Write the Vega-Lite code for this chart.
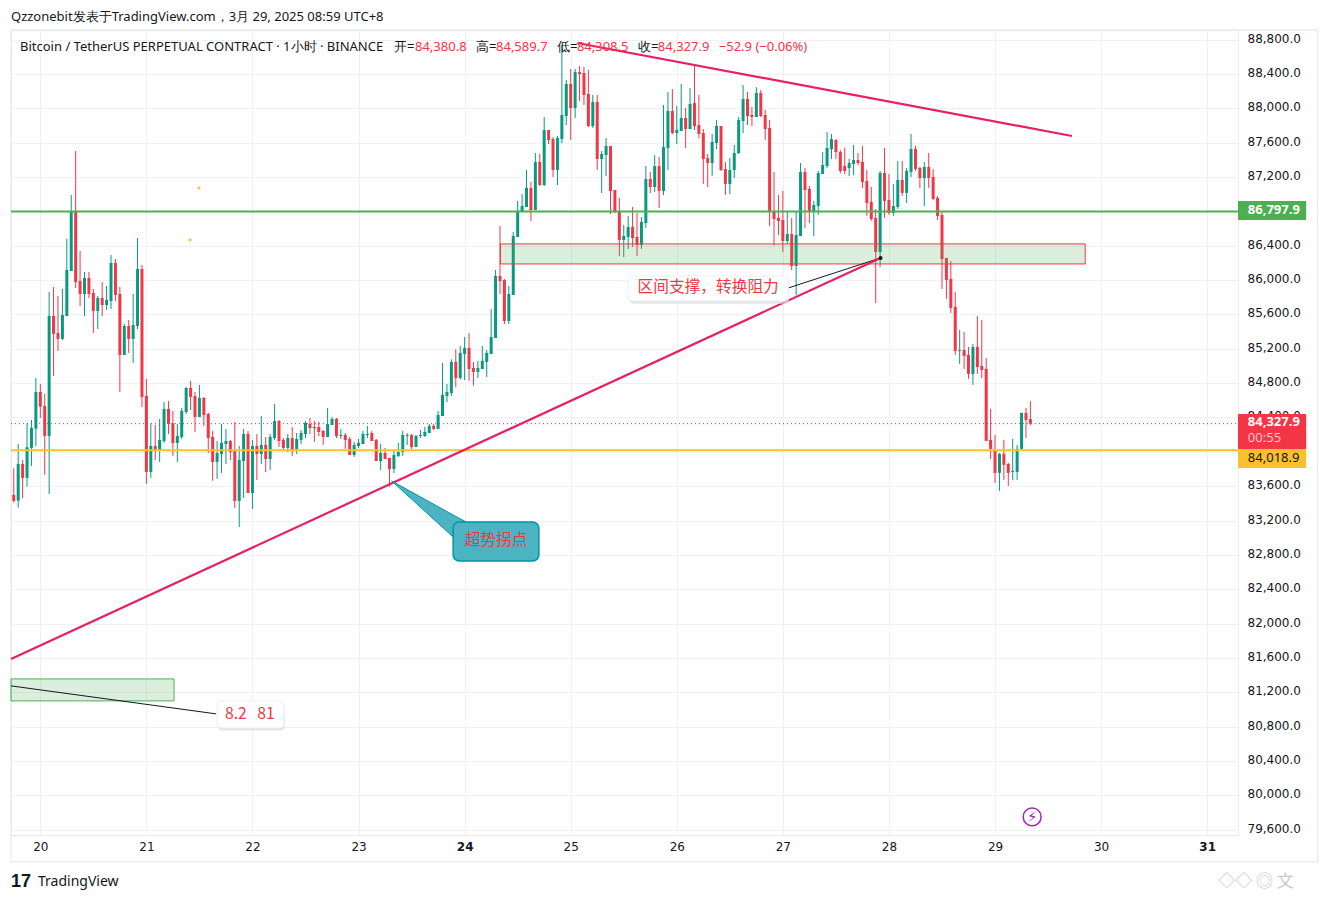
{
  "$schema": "https://vega.github.io/schema/vega-lite/v6.json",
  "width": 1227,
  "height": 805,
  "autosize": "none",
  "padding": {"left": 11, "top": 30, "right": 91, "bottom": 67},
  "background": "#ffffff",
  "config": {"view": {"stroke": "#eef0f4"}, "font": "Noto Sans"},
  "resolve": {"scale": {"color": "independent", "fill": "independent", "stroke": "independent"}},
  "datasets": {
    "candles": [
      {"t":-6,"o":83498,"h":83808,"l":83409,"c":83428},
      {"t":-5,"o":83432,"h":84091,"l":83350,"c":83859},
      {"t":-4,"o":83859,"h":83905,"l":83459,"c":83696},
      {"t":-3,"o":83696,"h":84332,"l":83595,"c":84053},
      {"t":-2,"o":84045,"h":84371,"l":83835,"c":84278},
      {"t":-1,"o":84270,"h":84860,"l":84068,"c":84697},
      {"t":0,"o":84697,"h":84790,"l":84394,"c":84526},
      {"t":1,"o":84534,"h":84673,"l":83731,"c":84185},
      {"t":2,"o":84185,"h":85861,"l":83509,"c":85581},
      {"t":3,"o":85581,"h":85919,"l":84883,"c":85372},
      {"t":4,"o":85383,"h":85814,"l":85174,"c":85314},
      {"t":5,"o":85314,"h":85896,"l":85302,"c":85593},
      {"t":6,"o":85581,"h":86478,"l":85581,"c":86117},
      {"t":7,"o":86105,"h":86990,"l":86105,"c":86792},
      {"t":8,"o":86792,"h":87502,"l":85907,"c":85977},
      {"t":9,"o":85989,"h":86338,"l":85698,"c":85837},
      {"t":10,"o":85837,"h":86094,"l":85581,"c":86024},
      {"t":11,"o":86024,"h":86094,"l":85791,"c":85837},
      {"t":12,"o":85849,"h":85896,"l":85383,"c":85640},
      {"t":13,"o":85640,"h":85814,"l":85430,"c":85791},
      {"t":14,"o":85791,"h":85977,"l":85581,"c":85709},
      {"t":15,"o":85709,"h":85931,"l":85651,"c":85768},
      {"t":16,"o":85756,"h":86291,"l":85663,"c":86198},
      {"t":17,"o":86198,"h":86245,"l":85756,"c":85826},
      {"t":18,"o":85837,"h":85919,"l":84697,"c":85127},
      {"t":19,"o":85127,"h":85488,"l":85127,"c":85465},
      {"t":20,"o":85465,"h":85535,"l":85151,"c":85314},
      {"t":21,"o":85314,"h":85837,"l":85034,"c":85477},
      {"t":22,"o":85465,"h":86489,"l":85430,"c":86128},
      {"t":23,"o":86128,"h":86175,"l":84522,"c":84639},
      {"t":24,"o":84650,"h":84848,"l":83626,"c":83766},
      {"t":25,"o":83766,"h":84332,"l":83696,"c":84068},
      {"t":26,"o":84068,"h":84313,"l":83905,"c":84022},
      {"t":27,"o":84022,"h":84382,"l":83882,"c":84138},
      {"t":28,"o":84126,"h":84580,"l":84103,"c":84499},
      {"t":29,"o":84499,"h":84592,"l":84208,"c":84324},
      {"t":30,"o":84332,"h":84476,"l":83952,"c":84103},
      {"t":31,"o":84103,"h":84324,"l":83882,"c":84185},
      {"t":32,"o":84173,"h":84510,"l":84150,"c":84476},
      {"t":33,"o":84464,"h":84755,"l":84441,"c":84743},
      {"t":34,"o":84743,"h":84825,"l":84487,"c":84639},
      {"t":35,"o":84650,"h":84697,"l":84231,"c":84406},
      {"t":36,"o":84406,"h":84778,"l":84406,"c":84627},
      {"t":37,"o":84627,"h":84638,"l":84301,"c":84429},
      {"t":38,"o":84441,"h":84452,"l":83987,"c":84161},
      {"t":39,"o":84173,"h":84243,"l":83664,"c":83882},
      {"t":40,"o":83882,"h":84126,"l":83684,"c":83986},
      {"t":41,"o":83975,"h":84324,"l":83754,"c":84103},
      {"t":42,"o":84091,"h":84266,"l":83858,"c":84126},
      {"t":43,"o":84126,"h":84138,"l":83905,"c":83998},
      {"t":44,"o":84021,"h":84347,"l":83346,"c":83428},
      {"t":45,"o":83428,"h":84068,"l":83125,"c":83905},
      {"t":46,"o":83893,"h":84266,"l":83463,"c":84208},
      {"t":47,"o":84208,"h":84243,"l":83521,"c":83521},
      {"t":48,"o":83521,"h":84138,"l":83335,"c":84068},
      {"t":49,"o":84068,"h":84208,"l":83672,"c":83975},
      {"t":50,"o":83975,"h":84417,"l":83858,"c":84080},
      {"t":51,"o":84080,"h":84173,"l":83765,"c":83917},
      {"t":52,"o":83917,"h":84208,"l":83789,"c":84173},
      {"t":53,"o":84161,"h":84557,"l":84138,"c":84359},
      {"t":54,"o":84359,"h":84371,"l":84056,"c":84126},
      {"t":55,"o":84138,"h":84161,"l":84021,"c":84045},
      {"t":56,"o":84045,"h":84208,"l":83998,"c":84161},
      {"t":57,"o":84161,"h":84289,"l":83952,"c":84021},
      {"t":58,"o":84033,"h":84219,"l":83975,"c":84149},
      {"t":59,"o":84138,"h":84254,"l":84091,"c":84219},
      {"t":60,"o":84208,"h":84359,"l":84161,"c":84336},
      {"t":61,"o":84324,"h":84394,"l":84208,"c":84277},
      {"t":62,"o":84289,"h":84359,"l":84115,"c":84277},
      {"t":63,"o":84289,"h":84347,"l":84184,"c":84231},
      {"t":64,"o":84243,"h":84254,"l":84080,"c":84173},
      {"t":65,"o":84173,"h":84510,"l":84173,"c":84324},
      {"t":66,"o":84312,"h":84406,"l":84312,"c":84382},
      {"t":67,"o":84382,"h":84394,"l":84161,"c":84184},
      {"t":68,"o":84184,"h":84266,"l":84149,"c":84196},
      {"t":69,"o":84196,"h":84219,"l":84033,"c":84138},
      {"t":70,"o":84149,"h":84173,"l":83963,"c":83963},
      {"t":71,"o":83963,"h":84115,"l":83940,"c":84080},
      {"t":72,"o":84068,"h":84149,"l":84045,"c":84103},
      {"t":73,"o":84091,"h":84243,"l":84091,"c":84208},
      {"t":74,"o":84196,"h":84301,"l":84161,"c":84208},
      {"t":75,"o":84219,"h":84243,"l":84126,"c":84126},
      {"t":76,"o":84138,"h":84149,"l":83893,"c":83893},
      {"t":77,"o":83893,"h":84091,"l":83789,"c":83986},
      {"t":78,"o":83986,"h":84045,"l":83917,"c":83917},
      {"t":79,"o":83928,"h":83928,"l":83595,"c":83800},
      {"t":80,"o":83800,"h":84010,"l":83754,"c":83963},
      {"t":81,"o":83952,"h":84103,"l":83940,"c":83998},
      {"t":82,"o":83998,"h":84243,"l":83952,"c":84196},
      {"t":83,"o":84184,"h":84219,"l":84080,"c":84196},
      {"t":84,"o":84196,"h":84208,"l":84033,"c":84056},
      {"t":85,"o":84056,"h":84196,"l":84056,"c":84184},
      {"t":86,"o":84184,"h":84254,"l":84161,"c":84196},
      {"t":87,"o":84184,"h":84289,"l":84173,"c":84231},
      {"t":88,"o":84219,"h":84324,"l":84219,"c":84301},
      {"t":89,"o":84301,"h":84324,"l":84254,"c":84266},
      {"t":90,"o":84266,"h":84475,"l":84266,"c":84429},
      {"t":91,"o":84417,"h":85034,"l":84417,"c":84662},
      {"t":92,"o":84650,"h":84790,"l":84580,"c":84697},
      {"t":93,"o":84685,"h":85077,"l":84650,"c":85046},
      {"t":94,"o":85046,"h":85193,"l":84751,"c":84860},
      {"t":95,"o":84860,"h":85232,"l":84840,"c":85151},
      {"t":96,"o":85139,"h":85337,"l":84836,"c":85209},
      {"t":97,"o":85209,"h":85384,"l":84825,"c":84964},
      {"t":98,"o":84976,"h":85046,"l":84770,"c":84930},
      {"t":99,"o":84930,"h":85058,"l":84860,"c":84976},
      {"t":100,"o":84964,"h":85232,"l":84964,"c":85058},
      {"t":101,"o":85046,"h":85186,"l":84871,"c":85151},
      {"t":102,"o":85139,"h":85663,"l":85139,"c":85337},
      {"t":103,"o":85325,"h":86117,"l":85325,"c":86047},
      {"t":104,"o":86047,"h":86629,"l":85837,"c":85989},
      {"t":105,"o":86000,"h":86012,"l":85488,"c":85523},
      {"t":106,"o":85523,"h":85931,"l":85488,"c":85837},
      {"t":107,"o":85826,"h":86559,"l":85826,"c":86513},
      {"t":108,"o":86501,"h":86920,"l":86501,"c":86804},
      {"t":109,"o":86792,"h":87001,"l":86792,"c":86862},
      {"t":110,"o":86850,"h":87281,"l":86850,"c":87071},
      {"t":111,"o":87071,"h":87141,"l":86687,"c":86815},
      {"t":112,"o":86815,"h":87479,"l":86815,"c":87374},
      {"t":113,"o":87374,"h":87467,"l":87095,"c":87106},
      {"t":114,"o":87106,"h":87898,"l":87095,"c":87746},
      {"t":115,"o":87746,"h":87746,"l":87583,"c":87630},
      {"t":116,"o":87642,"h":87665,"l":87199,"c":87281},
      {"t":117,"o":87281,"h":87677,"l":87106,"c":87653},
      {"t":118,"o":87642,"h":88736,"l":87595,"c":87921},
      {"t":119,"o":87909,"h":88328,"l":87805,"c":88282},
      {"t":120,"o":88282,"h":88456,"l":87630,"c":88002},
      {"t":121,"o":88002,"h":88456,"l":87886,"c":88421},
      {"t":122,"o":88421,"h":88491,"l":88084,"c":88398},
      {"t":123,"o":88410,"h":88480,"l":88037,"c":88154},
      {"t":124,"o":88165,"h":88445,"l":87781,"c":87793},
      {"t":125,"o":87793,"h":88154,"l":87770,"c":88072},
      {"t":126,"o":88072,"h":88154,"l":87281,"c":87409},
      {"t":127,"o":87409,"h":87502,"l":87013,"c":87467},
      {"t":128,"o":87455,"h":87653,"l":87211,"c":87560},
      {"t":129,"o":87560,"h":87560,"l":86769,"c":87036},
      {"t":130,"o":87048,"h":87048,"l":86780,"c":86804},
      {"t":131,"o":86804,"h":86955,"l":86280,"c":86466},
      {"t":132,"o":86466,"h":86641,"l":86268,"c":86513},
      {"t":133,"o":86501,"h":86745,"l":86361,"c":86617},
      {"t":134,"o":86617,"h":86850,"l":86384,"c":86489},
      {"t":135,"o":86501,"h":86780,"l":86280,"c":86408},
      {"t":136,"o":86408,"h":86734,"l":86361,"c":86676},
      {"t":137,"o":86664,"h":87327,"l":86606,"c":87176},
      {"t":138,"o":87176,"h":87257,"l":87013,"c":87083},
      {"t":139,"o":87083,"h":87455,"l":87025,"c":87327},
      {"t":140,"o":87327,"h":87432,"l":86838,"c":87036},
      {"t":141,"o":87036,"h":88037,"l":86990,"c":87549},
      {"t":142,"o":87537,"h":88189,"l":87281,"c":87968},
      {"t":143,"o":87967,"h":88223,"l":87700,"c":87711},
      {"t":144,"o":87711,"h":88026,"l":87583,"c":87746},
      {"t":145,"o":87735,"h":88282,"l":87735,"c":87886},
      {"t":146,"o":87886,"h":88002,"l":87537,"c":87758},
      {"t":147,"o":87758,"h":88235,"l":87758,"c":88049},
      {"t":148,"o":88060,"h":88503,"l":87746,"c":87793},
      {"t":149,"o":87804,"h":88154,"l":87653,"c":87700},
      {"t":150,"o":87711,"h":87758,"l":87118,"c":87409},
      {"t":151,"o":87420,"h":87467,"l":87083,"c":87362},
      {"t":152,"o":87362,"h":87700,"l":87211,"c":87607},
      {"t":153,"o":87595,"h":87863,"l":87525,"c":87793},
      {"t":154,"o":87793,"h":87793,"l":87269,"c":87281},
      {"t":155,"o":87292,"h":87374,"l":86990,"c":87118},
      {"t":156,"o":87118,"h":87420,"l":87001,"c":87281},
      {"t":157,"o":87281,"h":87572,"l":87188,"c":87478},
      {"t":158,"o":87478,"h":87898,"l":87467,"c":87863},
      {"t":159,"o":87851,"h":88270,"l":87711,"c":88107},
      {"t":160,"o":88107,"h":88189,"l":87804,"c":87909},
      {"t":161,"o":87921,"h":88014,"l":87793,"c":87898},
      {"t":162,"o":87898,"h":88247,"l":87898,"c":88177},
      {"t":163,"o":88177,"h":88212,"l":87898,"c":87909},
      {"t":164,"o":87921,"h":87979,"l":87630,"c":87758},
      {"t":165,"o":87769,"h":87863,"l":86629,"c":86792},
      {"t":166,"o":86792,"h":87257,"l":86404,"c":86710},
      {"t":167,"o":86722,"h":86990,"l":86524,"c":86687},
      {"t":168,"o":86699,"h":87036,"l":86326,"c":86454},
      {"t":169,"o":86454,"h":86792,"l":86419,"c":86536},
      {"t":170,"o":86536,"h":86722,"l":86117,"c":86163},
      {"t":171,"o":86163,"h":86792,"l":85826,"c":86524},
      {"t":172,"o":86512,"h":87362,"l":86512,"c":87257},
      {"t":173,"o":87257,"h":87304,"l":86605,"c":87048},
      {"t":174,"o":87059,"h":87094,"l":86664,"c":86803},
      {"t":175,"o":86803,"h":86920,"l":86512,"c":86873},
      {"t":176,"o":86862,"h":87269,"l":86757,"c":87246},
      {"t":177,"o":87234,"h":87490,"l":87234,"c":87339},
      {"t":178,"o":87327,"h":87723,"l":87304,"c":87537},
      {"t":179,"o":87525,"h":87700,"l":87409,"c":87641},
      {"t":180,"o":87630,"h":87641,"l":87409,"c":87490},
      {"t":181,"o":87490,"h":87513,"l":87242,"c":87269},
      {"t":182,"o":87327,"h":87541,"l":87234,"c":87269},
      {"t":183,"o":87304,"h":87409,"l":87211,"c":87362},
      {"t":184,"o":87350,"h":87572,"l":87222,"c":87397},
      {"t":185,"o":87397,"h":87478,"l":87335,"c":87362},
      {"t":186,"o":87374,"h":87561,"l":87072,"c":87142},
      {"t":187,"o":87153,"h":87281,"l":86746,"c":86897},
      {"t":188,"o":86909,"h":87083,"l":86688,"c":86711},
      {"t":189,"o":86723,"h":86827,"l":85733,"c":86327},
      {"t":190,"o":86327,"h":87270,"l":86152,"c":87246},
      {"t":191,"o":87246,"h":87537,"l":86723,"c":86921},
      {"t":192,"o":86932,"h":87235,"l":86758,"c":86781},
      {"t":193,"o":86781,"h":87118,"l":86746,"c":86862},
      {"t":194,"o":86851,"h":87386,"l":86827,"c":87165},
      {"t":195,"o":87165,"h":87386,"l":86979,"c":87014},
      {"t":196,"o":87014,"h":87305,"l":86897,"c":87270},
      {"t":197,"o":87258,"h":87700,"l":87200,"c":87526},
      {"t":198,"o":87526,"h":87561,"l":87270,"c":87293},
      {"t":199,"o":87305,"h":87316,"l":87072,"c":87188},
      {"t":200,"o":87188,"h":87375,"l":86862,"c":87316},
      {"t":201,"o":87316,"h":87479,"l":87072,"c":87188},
      {"t":202,"o":87200,"h":87293,"l":86932,"c":86944},
      {"t":203,"o":86955,"h":86979,"l":86699,"c":86746},
      {"t":204,"o":86758,"h":86804,"l":85896,"c":86245},
      {"t":205,"o":86257,"h":86257,"l":85780,"c":86001},
      {"t":206,"o":86013,"h":86222,"l":85617,"c":85675},
      {"t":207,"o":85687,"h":85861,"l":85128,"c":85175},
      {"t":208,"o":85175,"h":85419,"l":85023,"c":85186},
      {"t":209,"o":85186,"h":85396,"l":84965,"c":85116},
      {"t":210,"o":85128,"h":85221,"l":84849,"c":84907},
      {"t":211,"o":84907,"h":85256,"l":84779,"c":85221},
      {"t":212,"o":85221,"h":85582,"l":84907,"c":84988},
      {"t":213,"o":85000,"h":85535,"l":84860,"c":84953},
      {"t":214,"o":84965,"h":85093,"l":84127,"c":84127},
      {"t":215,"o":84139,"h":84499,"l":83917,"c":84034},
      {"t":216,"o":84022,"h":84197,"l":83638,"c":83755},
      {"t":217,"o":83755,"h":83987,"l":83545,"c":83976},
      {"t":218,"o":83976,"h":84139,"l":83673,"c":83848},
      {"t":219,"o":83859,"h":83871,"l":83603,"c":83755},
      {"t":220,"o":83766,"h":84150,"l":83673,"c":83778},
      {"t":221,"o":83766,"h":84080,"l":83673,"c":84034},
      {"t":222,"o":84034,"h":84453,"l":84022,"c":84453},
      {"t":223,"o":84453,"h":84511,"l":84162,"c":84371},
      {"t":224,"o":84380.8,"h":84589.7,"l":84308.5,"c":84327.9}
    ]
  },
  "encoding": {
    "x": {
      "field": "t",
      "type": "quantitative",
      "title": null,
      "scale": {"domain": [-6.63, 270.97], "nice": false, "zero": false, "padding": 0},
      "axis": {
        "values": [0, 24, 48, 72, 96, 120, 144, 168, 192, 216, 240, 264],
        "labelExpr": "format(datum.value / 24 + 20, 'd')",
        "labelFontWeight": {"condition": {"test": "datum.value == 96 || datum.value == 264", "value": "bold"}, "value": "normal"},
        "labelColor": "#131722",
        "labelFontSize": 12,
        "labelFont": "DejaVu Sans",
        "labelPadding": 6,
        "ticks": false,
        "domainColor": "#e6e8ee",
        "gridColor": "#f0f1f4",
        "grid": true
      }
    },
    "y": {
      "field": "p",
      "type": "quantitative",
      "title": null,
      "scale": {"domain": [79539, 88910.6], "nice": false, "zero": false},
      "axis": {
        "orient": "right",
        "values": [79600, 80000, 80400, 80800, 81200, 81600, 82000, 82400, 82800, 83200, 83600, 84000, 84400, 84800, 85200, 85600, 86000, 86400, 86800, 87200, 87600, 88000, 88400, 88800],
        "labelExpr": "datum.value == 86800 || datum.value == 84000 ? '' : format(datum.value, ',.1f')",
        "labelColor": "#131722",
        "labelFontSize": 12,
        "labelFont": "DejaVu Sans",
        "labelPadding": 9,
        "labelOffset": -1.5,
        "labelOverlap": false,
        "labelBound": false,
        "labelFlush": false,
        "ticks": false,
        "domain": false,
        "gridColor": "#f0f1f4",
        "grid": true
      }
    }
  },
  "layer": [
    {
      "data": {"values": [{"t": -6.63, "t2": 289, "p": 88910.6, "p2": 79226}]},
      "mark": {"type": "rect", "fillOpacity": 0, "stroke": "#e0e3eb", "strokeWidth": 1},
      "encoding": {"x2": {"field": "t2"}, "y2": {"field": "p2"}}
    },
    {
      "data": {"values": [{"t": -6.63, "t2": 270.97, "p": 84327.9}]},
      "mark": {"type": "rule", "color": "#F23645", "strokeWidth": 1, "strokeDash": [1, 3]},
      "encoding": {"x2": {"field": "t2"}}
    },
    {
      "data": {"name": "candles"},
      "mark": {"type": "rule", "strokeWidth": 1},
      "encoding": {
        "y": {"field": "h", "type": "quantitative", "title": null},
        "y2": {"field": "l"},
        "color": {"condition": {"test": "datum.c >= datum.o", "value": "#089981"}, "value": "#F23645"}
      }
    },
    {
      "data": {"name": "candles"},
      "mark": {"type": "bar", "size": 3},
      "encoding": {
        "y": {"field": "o", "type": "quantitative", "title": null},
        "y2": {"field": "c"},
        "color": {"condition": {"test": "datum.c >= datum.o", "value": "#089981"}, "value": "#F23645"}
      }
    },
    {
      "data": {"values": [
        {"t": 104.1, "t2": 236.4, "p": 86420, "p2": 86187, "edge": "red"},
        {"t": -6.63, "t2": 30.25, "p": 81356, "p2": 81100, "edge": "green"}
      ]},
      "mark": {"type": "rect", "fill": "#4CAF50", "fillOpacity": 0.2, "strokeWidth": 1},
      "encoding": {
        "x2": {"field": "t2"},
        "y2": {"field": "p2"},
        "stroke": {"field": "edge", "type": "nominal", "legend": null, "scale": {"domain": ["red", "green"], "range": ["#F23645", "#4CAF50"]}}
      }
    },
    {
      "data": {"values": [
        {"t": -6.63, "t2": 270.97, "p": 86797.9, "level": "green"},
        {"t": -6.63, "t2": 270.97, "p": 84018.9, "level": "yellow"}
      ]},
      "mark": {"type": "rule", "strokeWidth": 2},
      "encoding": {
        "x2": {"field": "t2"},
        "color": {"field": "level", "type": "nominal", "legend": null, "scale": {"domain": ["green", "yellow"], "range": ["#4CAF50", "#FBC02D"]}}
      }
    },
    {
      "data": {"values": [
        {"t": 35.9, "p": 87071},
        {"t": 33.9, "p": 86466}
      ]},
      "mark": {"type": "point", "shape": "square", "filled": true, "size": 7, "color": "#FFB74D", "opacity": 1}
    },
    {
      "data": {"values": [
        {"id": "callout-low", "t": -6.63, "p": 81275},
        {"id": "callout-low", "t": 39.8, "p": 80949},
        {"id": "callout-mid", "t": 169.2, "p": 85907},
        {"id": "callout-mid", "t": 190.1, "p": 86257}
      ]},
      "mark": {"type": "line", "color": "#131722", "strokeWidth": 1},
      "encoding": {"detail": {"field": "id"}}
    },
    {
      "data": {"values": [
        {"id": "support", "t": -6.63, "p": 81589},
        {"id": "support", "t": 190.1, "p": 86257},
        {"id": "resistance", "t": 121.5, "p": 88759},
        {"id": "resistance", "t": 233.4, "p": 87677}
      ]},
      "mark": {"type": "line", "color": "#E91E63", "strokeWidth": 2.2},
      "encoding": {"detail": {"field": "id"}}
    },
    {
      "data": {"values": [{"t": 190.1, "p": 86257}]},
      "mark": {"type": "point", "shape": "circle", "filled": true, "size": 16, "color": "#131722", "opacity": 1}
    },
    {
      "data": {"values": [
        {"t": 79.5, "p": 83660, "p2": 83660},
        {"t": 93.4, "p": 83265, "p2": 83009},
        {"t": 96.3, "p": 83184, "p2": 83100}
      ]},
      "mark": {"type": "area", "color": "#4BB3C1", "stroke": "#0097A7", "strokeWidth": 1},
      "encoding": {"y2": {"field": "p2"}}
    },
    {
      "data": {"values": [{"t": 93.4, "t2": 112.8, "p": 83184, "p2": 82730}]},
      "mark": {"type": "rect", "fill": "#4BB3C1", "stroke": "#0097A7", "strokeWidth": 1.5, "cornerRadius": 6},
      "encoding": {"x2": {"field": "t2"}, "y2": {"field": "p2"}}
    },
    {
      "data": {"values": [
        {"t": 133.3, "t2": 169.4, "p": 86020, "p2": 85725},
        {"t": 40.2, "t2": 55.3, "p": 81075, "p2": 80755}
      ]},
      "mark": {"type": "rect", "fill": "#d9dbe0", "cornerRadius": 4, "opacity": 0.7},
      "encoding": {"x2": {"field": "t2"}, "y2": {"field": "p2"}}
    },
    {
      "data": {"values": [
        {"t": 133, "t2": 169.2, "p": 86047, "p2": 85756},
        {"t": 39.98, "t2": 55.1, "p": 81100, "p2": 80786}
      ]},
      "mark": {"type": "rect", "fill": "#ffffff", "stroke": "#eceef2", "cornerRadius": 4},
      "encoding": {"x2": {"field": "t2"}, "y2": {"field": "p2"}}
    },
    {
      "data": {"values": [
        {"t": 151.1, "p": 85919, "label": "区间支撑，转换阻力"},
        {"t": 47.4, "p": 80949, "label": "8.2\u00a0\u00a0\u00a081"},
        {"t": 103.1, "p": 82974, "label": "超势拐点"}
      ]},
      "mark": {"type": "text", "font": "Noto Sans CJK SC", "fontSize": 15.7, "color": "#F23645", "align": "center", "baseline": "middle"},
      "encoding": {"text": {"field": "label"}}
    },
    {
      "data": {"values": [
        {"t": -6.63, "p": 89062, "label": "Qzzonebit发表于TradingView.com，3月 29, 2025 08:59 UTC+8", "tone": "ink"},
        {"t": -4.59, "p": 88713, "label": "Bitcoin / TetherUS PERPETUAL CONTRACT · 1小时 · BINANCE", "tone": "ink"},
        {"t": 80, "p": 88713, "label": "开=", "tone": "ink"},
        {"t": 84.77, "p": 88713, "label": "84,380.8", "tone": "red"},
        {"t": 98.6, "p": 88713, "label": "高=", "tone": "ink"},
        {"t": 103.1, "p": 88713, "label": "84,589.7", "tone": "red"},
        {"t": 116.9, "p": 88713, "label": "低=", "tone": "ink"},
        {"t": 121.4, "p": 88713, "label": "84,308.5", "tone": "red"},
        {"t": 135.2, "p": 88713, "label": "收=", "tone": "ink"},
        {"t": 139.7, "p": 88713, "label": "84,327.9", "tone": "red"},
        {"t": 153.5, "p": 88713, "label": "−52.9 (−0.06%)", "tone": "red"}
      ]},
      "mark": {"type": "text", "font": "Noto Sans", "fontSize": 13, "align": "left", "baseline": "middle"},
      "encoding": {
        "text": {"field": "label"},
        "color": {"field": "tone", "type": "nominal", "legend": null, "scale": {"domain": ["ink", "red"], "range": ["#131722", "#F23645"]}}
      }
    },
    {
      "data": {"values": [
        {"t": 270.97, "t2": 286.4, "p": 86920, "p2": 86699, "tag": "green"},
        {"t": 270.97, "t2": 286.4, "p": 84441, "p2": 84033, "tag": "red"},
        {"t": 270.97, "t2": 286.4, "p": 84033, "p2": 83812, "tag": "yellow"}
      ]},
      "mark": {"type": "rect", "cornerRadius": 1},
      "encoding": {
        "x2": {"field": "t2"},
        "y2": {"field": "p2"},
        "fill": {"field": "tag", "type": "nominal", "legend": null, "scale": {"domain": ["green", "red", "yellow"], "range": ["#4CAF50", "#F23645", "#FBC02D"]}}
      }
    },
    {
      "data": {"values": [
        {"t": 273.2, "p": 86810, "label": "86,797.9"},
        {"t": 273.2, "p": 84348, "label": "84,327.9"}
      ]},
      "mark": {"type": "text", "font": "Noto Sans", "fontSize": 13, "fontWeight": "bold", "color": "#ffffff", "align": "left", "baseline": "middle"},
      "encoding": {"text": {"field": "label"}}
    },
    {
      "data": {"values": [
        {"t": 273.2, "p": 84161, "label": "00:55", "tone": "pale"},
        {"t": 273.2, "p": 83929, "label": "84,018.9", "tone": "dark"}
      ]},
      "mark": {"type": "text", "font": "Noto Sans", "fontSize": 13, "align": "left", "baseline": "middle"},
      "encoding": {
        "text": {"field": "label"},
        "color": {"field": "tone", "type": "nominal", "legend": null, "scale": {"domain": ["pale", "dark"], "range": ["#ffc4cb", "#131722"]}}
      }
    },
    {
      "data": {"values": [{"t": 224.4, "p": 79750}]},
      "mark": {"type": "point", "shape": "circle", "size": 320, "color": "#9C27B0", "strokeWidth": 1.5, "filled": false, "opacity": 1}
    },
    {
      "data": {"values": [{"t": 224.4, "p": 79750, "label": "⚡"}]},
      "mark": {"type": "text", "font": "DejaVu Sans", "fontSize": 15, "color": "#9C27B0", "align": "center", "baseline": "middle"},
      "encoding": {"text": {"field": "label"}}
    },
    {
      "data": {"values": [{"t": -6.63, "p": 78993, "label": "17"}]},
      "mark": {"type": "text", "font": "Liberation Sans", "fontSize": 18, "fontWeight": "bold", "color": "#131722", "align": "left", "baseline": "middle"},
      "encoding": {"text": {"field": "label"}}
    },
    {
      "data": {"values": [{"t": -0.52, "p": 78993, "label": "TradingView"}]},
      "mark": {"type": "text", "font": "Noto Sans", "fontSize": 14, "color": "#131722", "align": "left", "baseline": "middle"},
      "encoding": {"text": {"field": "label"}}
    },
    {
      "data": {"values": [{"t": 266.5, "p": 78993, "label": "◇◇ ◎ 文"}]},
      "mark": {"type": "text", "font": "Noto Sans CJK SC", "fontSize": 17, "color": "#c9c9c9", "align": "left", "baseline": "middle"},
      "encoding": {"text": {"field": "label"}}
    }
  ]
}
